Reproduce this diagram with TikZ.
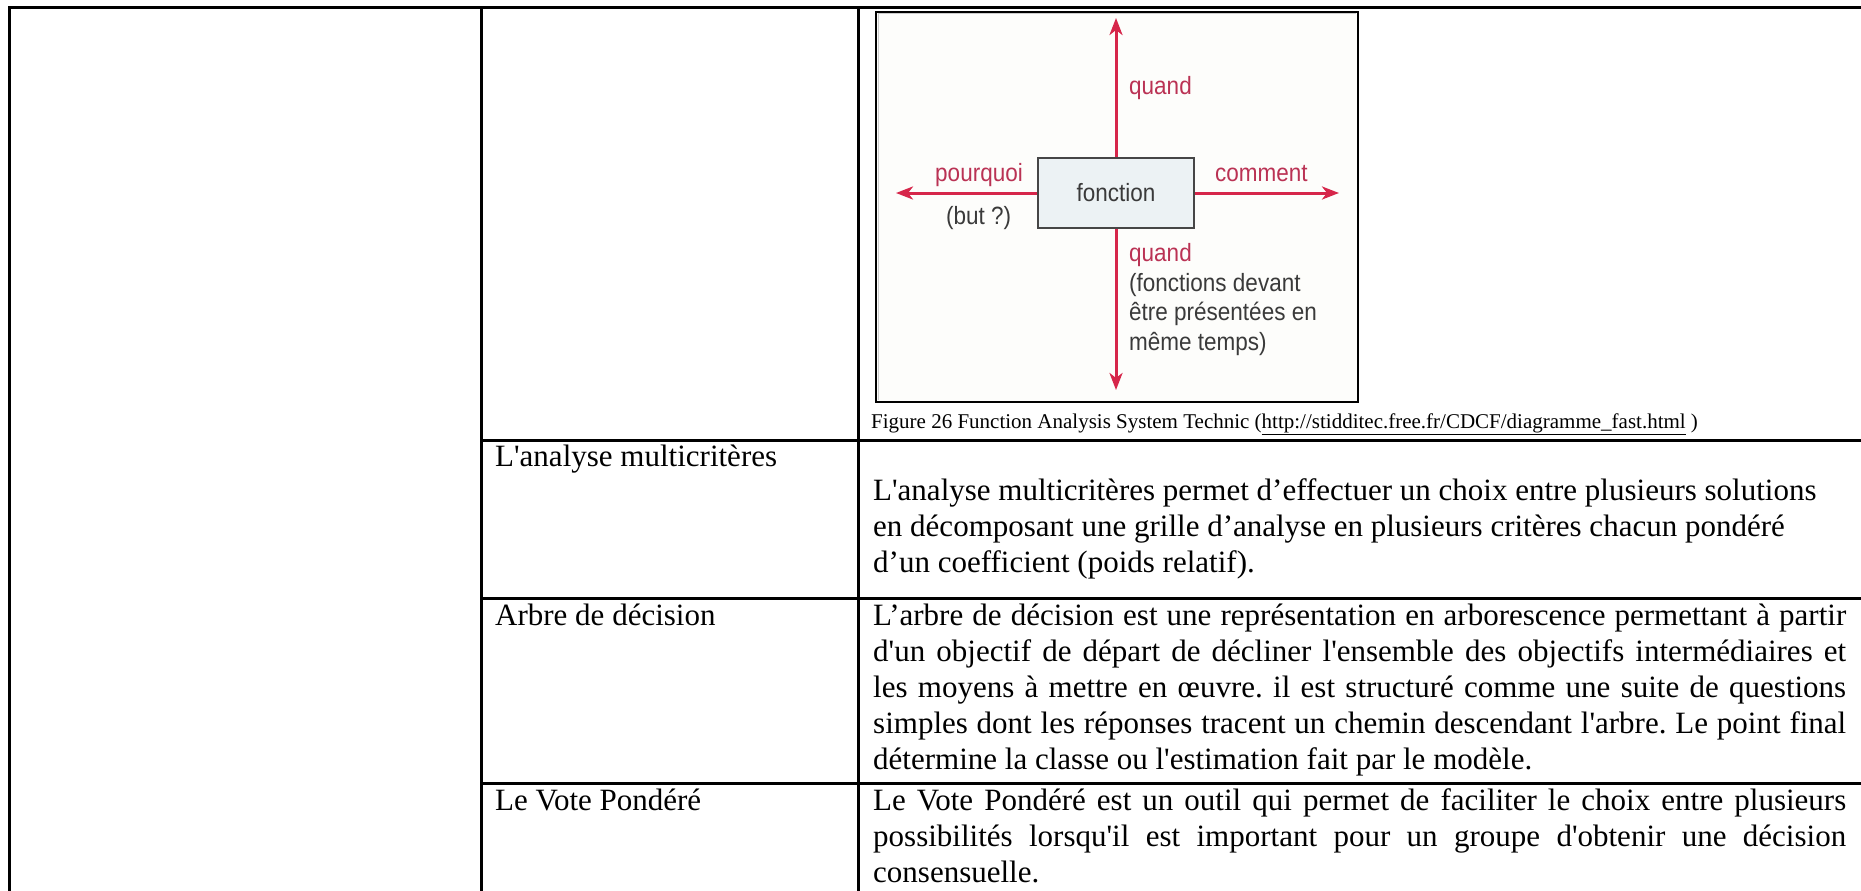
\documentclass[tikz,border=0pt]{standalone}
\usepackage{fontspec}
\setmainfont{Liberation Serif}[Ligatures=TeXOff]
\newfontfamily\fastfont{Liberation Sans}[FakeStretch=0.9,Ligatures=TeXOff]
\usetikzlibrary{arrows.meta}
\frenchspacing

\definecolor{fastred}{RGB}{214,38,74}
\definecolor{fastlabel}{RGB}{186,50,84}
\definecolor{fastgray}{RGB}{58,58,58}
\definecolor{funcfill}{RGB}{236,242,244}
\definecolor{funcdraw}{RGB}{70,70,70}
\definecolor{pictbg}{RGB}{253,253,251}

\begin{document}
\begin{tikzpicture}[x=1pt,y=-1pt,
  tablerule/.style={line width=3pt,black},
  celltext/.style={anchor=base west,inner sep=0pt,font=\fontsize{31}{36}\selectfont},
  captiontext/.style={anchor=base west,inner sep=0pt,font=\fontsize{21}{24}\selectfont},
  fasttext/.style={inner sep=0pt,font=\fastfont\fontsize{25}{29.6}\selectfont},
  fastkey/.style={fasttext,text=fastlabel},
  fastnote/.style={fasttext,text=fastgray},
  fastarrow/.style={draw=fastred,line width=3pt,-{Stealth[length=17pt,width=13pt,inset=5pt]}},
  funcbox/.style={draw=funcdraw,line width=1.6pt,fill=funcfill,
    minimum width=156pt,minimum height=70pt,inner sep=0pt,
    font=\fastfont\fontsize{25}{29.6}\selectfont,text=fastgray}]

\useasboundingbox (0,0) rectangle (1861,891);
\fill[white] (0,0) rectangle (1861,891);

% table frame and cell rules
\draw[tablerule] (9,891) -- (9,8) -- (1861,8);
\draw[tablerule] (481,8) -- (481,891);
\draw[tablerule] (858,8) -- (858,891);
\draw[tablerule] (481,440) -- (1861,440);
\draw[tablerule] (481,598) -- (1861,598);
\draw[tablerule] (481,783) -- (1861,783);

% embedded FAST figure
\draw[black,line width=2pt,fill=pictbg] (876,12) rectangle (1358,402);
\draw[black!20,line width=1pt] (878,400) -- (878,14) -- (1356,14);

\node[funcbox] (func) at (1116,193) {fonction};
\coordinate (upEnd) at (1116,18);
\coordinate (downEnd) at (1116,390);
\coordinate (leftEnd) at (896,193);
\coordinate (rightEnd) at (1339,193);
\draw[fastarrow] (func.north) -- (upEnd);
\draw[fastarrow] (func.south) -- (downEnd);
\draw[fastarrow] (func.west) -- (leftEnd);
\draw[fastarrow] (func.east) -- (rightEnd);

\node[fastkey,anchor=base west] (whenUp) at (1129,95) {quand};
\node[fastkey,anchor=base east] (why) at (1023,181) {pourquoi};
\node[fastnote,anchor=base west] (goal) at (946,224) {(but ?)};
\node[fastkey,anchor=base west] (how) at (1215,181) {comment};
\node[fastkey,anchor=base west] (whenDown) at (1129,261) {quand};
\node[fastnote,anchor=base west] (whenNote) at (1129,291)
  {\parbox[t]{220pt}{\raggedright (fonctions devant\\ être présentées en\\ même temps)}};

\node[captiontext] (caption) at (871,428)
  {Figure 26 Function Analysis System Technic (\underline{http://stidditec.free.fr/CDCF/diagramme\_fast.html} )};

% method names
\node[celltext] (nameMulti) at (495,466) {L'analyse multicritères};
\node[celltext] (nameTree) at (495,625) {Arbre de décision};
\node[celltext] (nameVote) at (495,810) {Le Vote Pondéré};

% descriptions
\node[celltext] (descMulti) at (873,500)
  {\parbox[t]{972pt}{L'analyse multicritères permet d’effectuer un choix entre plusieurs solutions\\
   en décomposant une grille d’analyse en plusieurs critères chacun pondéré\\
   d’un coefficient (poids relatif).}};
\node[celltext] (descTree) at (873,625)
  {\parbox[t]{973pt}{\hyphenpenalty=10000\tolerance=9999
   L’arbre de décision est une représentation en arborescence permettant à partir\linebreak
   d'un objectif de départ de décliner l'ensemble des objectifs intermédiaires et\linebreak
   les moyens à mettre en œuvre. il est structuré comme une suite de questions\linebreak
   simples dont les réponses tracent un chemin descendant l'arbre. Le point final\linebreak
   détermine la classe ou l'estimation fait par le modèle.}};
\node[celltext] (descVote) at (873,810)
  {\parbox[t]{973pt}{\hyphenpenalty=10000\tolerance=9999
   Le Vote Pondéré est un outil qui permet de faciliter le choix entre plusieurs\linebreak
   possibilités lorsqu'il est important pour un groupe d'obtenir une décision\linebreak
   consensuelle.}};
\end{tikzpicture}
\end{document}
